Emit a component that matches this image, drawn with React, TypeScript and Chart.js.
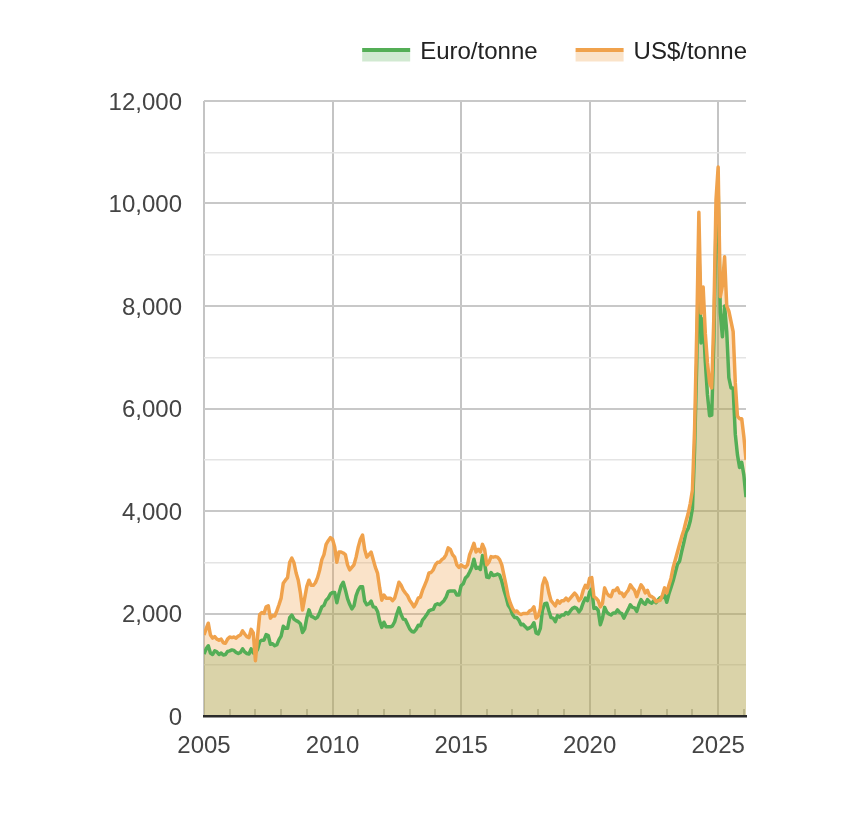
import { useEffect, useRef } from "react";
import { Chart, registerables } from "chart.js";

Chart.register(...registerables);

// ---- data (monthly, starting January 2005) ----
const firstYear = 2005;
const seriesNames = ["Euro/tonne", "US$/tonne"];

const euroPerTonne = [
  1210, 1310, 1370, 1230, 1200, 1270, 1250, 1200, 1230, 1190, 1200, 1260, // 2005
  1270, 1290, 1280, 1240, 1220, 1240, 1310, 1250, 1220, 1210, 1310, 1230, // 2006
  1230, 1300, 1450, 1480, 1480, 1590, 1570, 1400, 1410, 1370, 1390, 1490, // 2007
  1560, 1750, 1710, 1710, 1920, 1970, 1890, 1860, 1840, 1800, 1630, 1700, // 2008
  1920, 2070, 1950, 1930, 1900, 1930, 2020, 2130, 2160, 2260, 2300, 2380, // 2009
  2410, 2410, 2210, 2390, 2540, 2610, 2460, 2290, 2180, 2090, 2150, 2350, // 2010
  2460, 2520, 2520, 2240, 2170, 2190, 2240, 2130, 2120, 2040, 1850, 1730, // 2011
  1830, 1740, 1740, 1740, 1760, 1840, 1990, 2110, 1980, 1890, 1880, 1790, // 2012
  1700, 1650, 1640, 1690, 1770, 1760, 1870, 1920, 1980, 2050, 2070, 2080, // 2013
  2170, 2190, 2170, 2210, 2250, 2320, 2430, 2440, 2440, 2440, 2360, 2360, // 2014
  2540, 2580, 2690, 2730, 2810, 2900, 3060, 2880, 2900, 2860, 3130, 2980, // 2015
  2710, 2700, 2800, 2740, 2750, 2770, 2750, 2630, 2460, 2320, 2160, 2100, // 2016
  1980, 1920, 1920, 1870, 1780, 1790, 1740, 1700, 1720, 1750, 1820, 1620, // 2017
  1600, 1710, 2070, 2190, 2200, 2050, 1920, 1910, 1840, 1960, 1930, 1970, // 2018
  1970, 2020, 1990, 2050, 2100, 2120, 2100, 2030, 2090, 2210, 2300, 2250, // 2019
  2420, 2480, 2100, 2110, 2060, 1780, 1910, 2120, 2030, 1990, 1970, 2010, // 2020
  2010, 2070, 2020, 2000, 1910, 2000, 2080, 2170, 2120, 2110, 2040, 2170, // 2021
  2270, 2210, 2180, 2270, 2220, 2200, 2250, 2210, 2270, 2310, 2310, 2360, // 2022
  2220, 2380, 2510, 2640, 2800, 2960, 3020, 3210, 3390, 3580, 3660, 3810, // 2023
  4050, 5190, 6880, 9190, 7280, 7750, 6920, 6270, 5860, 5870, 7350, 9590, // 2024
  10300, 7870, 7400, 8000, 7500, 6600, 6400, 6400, 5500, 5100, 4850, 4950, // 2025
  4700, 4270, // 2026
];

const usdPerTonne = [
  1580, 1700, 1810, 1580, 1520, 1550, 1500, 1480, 1500, 1430, 1420, 1500, // 2005
  1540, 1530, 1540, 1520, 1560, 1580, 1660, 1600, 1550, 1530, 1690, 1620, // 2006
  1080, 1550, 1980, 2020, 2000, 2130, 2150, 1910, 1960, 1950, 2050, 2170, // 2007
  2300, 2590, 2650, 2700, 3000, 3080, 2990, 2790, 2650, 2400, 2070, 2300, // 2008
  2530, 2650, 2550, 2550, 2600, 2700, 2850, 3050, 3150, 3350, 3420, 3480, // 2009
  3450, 3300, 3000, 3200, 3200, 3180, 3150, 2950, 2850, 2900, 2950, 3100, // 2010
  3300, 3450, 3530, 3250, 3100, 3150, 3200, 3050, 2900, 2790, 2500, 2260, // 2011
  2360, 2300, 2300, 2300, 2250, 2300, 2450, 2610, 2550, 2460, 2400, 2350, // 2012
  2260, 2200, 2130, 2200, 2300, 2320, 2450, 2550, 2650, 2790, 2800, 2850, // 2013
  2950, 3000, 3000, 3050, 3080, 3150, 3280, 3250, 3150, 3100, 2950, 2900, // 2014
  2950, 2920, 2900, 2950, 3150, 3250, 3370, 3200, 3250, 3200, 3350, 3250, // 2015
  2950, 3000, 3110, 3100, 3110, 3100, 3050, 2950, 2750, 2550, 2330, 2200, // 2016
  2100, 2030, 2050, 2000, 1980, 2000, 2000, 2000, 2050, 2070, 2130, 1910, // 2017
  1950, 2100, 2550, 2690, 2600, 2400, 2250, 2200, 2150, 2250, 2200, 2250, // 2018
  2250, 2300, 2250, 2300, 2350, 2400, 2350, 2250, 2300, 2450, 2550, 2500, // 2019
  2690, 2700, 2330, 2300, 2250, 2130, 2200, 2500, 2400, 2350, 2330, 2450, // 2020
  2450, 2500, 2400, 2400, 2330, 2400, 2450, 2560, 2500, 2450, 2330, 2450, // 2021
  2560, 2500, 2400, 2450, 2350, 2330, 2300, 2230, 2250, 2260, 2360, 2500, // 2022
  2400, 2550, 2690, 2900, 3050, 3200, 3350, 3500, 3630, 3800, 3950, 4150, // 2023
  4410, 5600, 7500, 9830, 7860, 8370, 7470, 6900, 6500, 6400, 7790, 10070, // 2024
  10710, 8180, 8400, 8960, 8000, 7900, 7700, 7500, 6500, 5850, 5800, 5800, // 2025
  5450, 5000, // 2026
];

const xLabelYears = [2005, 2010, 2015, 2020, 2025];
const yMin = 0;
const yMax = 12000;
const yStep = 1000;
const yLabelStep = 2000;

// decimal-year position of each monthly observation
const monthX = usdPerTonne.map((_, i) => firstYear + i / 12);

const greenLine = "rgb(84,174,86)";
const greenFill = "rgba(84,174,86,0.27)";
const orangeLine = "rgb(240,162,76)";
const orangeFill = "rgba(240,162,76,0.3)";

const FONT = "'Liberation Sans', Arial, Helvetica, sans-serif";
const FONT_SIZE = 24;

const minorTicksPlugin = {
  id: "minorTicks",
  beforeDraw(chart: any) {
    const xs = chart.scales.x;
    const { ctx, chartArea } = chart;
    ctx.save();
    ctx.strokeStyle = "#c2c2c2";
    ctx.lineWidth = 2;
    const lo = Math.ceil(xs.min);
    const hi = Math.floor(xs.max + 0.5);
    for (let y = lo; y <= hi; y++) {
      if (xLabelYears.includes(y)) continue;
      const px = Math.round(xs.getPixelForValue(y));
      ctx.beginPath();
      ctx.moveTo(px, chartArea.bottom);
      ctx.lineTo(px, chartArea.bottom - 7);
      ctx.stroke();
    }
    ctx.restore();
  },
};

const legendPlugin = {
  id: "swatchLegend",
  afterDraw(chart: any) {
    const { ctx, chartArea } = chart;
    ctx.save();
    ctx.font = `${FONT_SIZE}px ${FONT}`;
    const swW = 48;
    const gapText = 10;
    const gapItem = 38;
    const items = chart.data.datasets.map((ds: any) => ({
      label: ds.label,
      line: ds.borderColor,
      fill: ds.backgroundColor,
      w: ctx.measureText(ds.label).width,
    }));
    const total =
      items.reduce((s: number, it: any) => s + swW + gapText + it.w, 0) +
      gapItem * (items.length - 1);
    let x = chartArea.right + 1 - total;
    for (const it of items) {
      ctx.fillStyle = it.fill;
      ctx.fillRect(x, 43.5, swW, 10);
      ctx.fillStyle = it.line;
      ctx.fillRect(x, 40, swW, 4);
      ctx.fillStyle = "#222";
      ctx.textBaseline = "alphabetic";
      ctx.textAlign = "left";
      ctx.fillText(it.label, x + swW + gapText, 50.5);
      x += swW + gapText + it.w + gapItem;
    }
    ctx.restore();
  },
};

export default function App() {
  const canvasRef = useRef<HTMLCanvasElement | null>(null);

  useEffect(() => {
    if (!canvasRef.current) return;
    const chart = new Chart(canvasRef.current, {
      type: "line",
      data: {
        datasets: [
          {
            label: seriesNames[0],
            data: monthX.map((x, i) => ({ x, y: euroPerTonne[i] })),
            borderColor: greenLine,
            backgroundColor: greenFill,
            borderWidth: 3.5,
            fill: "origin",
            pointRadius: 0,
            tension: 0,
            order: 1,
            borderJoinStyle: "round",
          },
          {
            label: seriesNames[1],
            data: monthX.map((x, i) => ({ x, y: usdPerTonne[i] })),
            borderColor: orangeLine,
            backgroundColor: orangeFill,
            borderWidth: 3.5,
            fill: "origin",
            pointRadius: 0,
            tension: 0,
            order: 0,
            borderJoinStyle: "round",
          },
        ],
      },
      options: {
        animation: false,
        responsive: true,
        maintainAspectRatio: false,
        parsing: false as any,
        layout: { padding: { left: 0, right: 114, top: 93, bottom: 0 } },
        plugins: {
          legend: { display: false },
          tooltip: { enabled: false },
          filler: { drawTime: "beforeDatasetsDraw" } as any,
        },
        scales: {
          x: {
            type: "linear",
            min: firstYear,
            max: monthX[monthX.length - 1],
            afterFit: (scale: any) => {
              scale.height = 108;
            },
            border: { display: true, color: "#2a2a2a", width: 2.5, z: 1 },
            grid: {
              drawTicks: false,
              lineWidth: 2,
              color: (c: any) =>
                xLabelYears.includes(c.tick?.value) ? "#c4c4c4" : "rgba(0,0,0,0)",
            },
            ticks: {
              stepSize: 1,
              autoSkip: false,
              includeBounds: false,
              maxRotation: 0,
              padding: 16,
              color: "#444",
              font: { family: FONT, size: FONT_SIZE },
              callback: (v: any) => (xLabelYears.includes(Number(v)) ? String(v) : ""),
            },
          },
          y: {
            min: yMin,
            max: yMax,
            afterFit: (scale: any) => {
              scale.width = 196;
            },
            border: { display: false },
            grid: {
              drawTicks: false,
              lineWidth: (c: any) => (c.tick?.value % yLabelStep === 0 ? 2 : 1.5),
              color: (c: any) => {
                const v = c.tick?.value;
                if (v === 0) return "rgba(0,0,0,0)";
                return v % yLabelStep === 0 ? "#c8c8c8" : "#e4e4e4";
              },
            },
            ticks: {
              stepSize: yStep,
              padding: 22,
              labelOffset: 2,
              color: "#444",
              font: { family: FONT, size: FONT_SIZE },
              callback: (v: any) =>
                Number(v) % yLabelStep === 0 ? Number(v).toLocaleString("en-US") : "",
            },
          },
        },
      },
      plugins: [minorTicksPlugin, legendPlugin],
    });
    return () => chart.destroy();
  }, []);

  return (
    <div style={{ position: "relative", width: 852, height: 816 }}>
      <canvas ref={canvasRef} />
    </div>
  );
}
